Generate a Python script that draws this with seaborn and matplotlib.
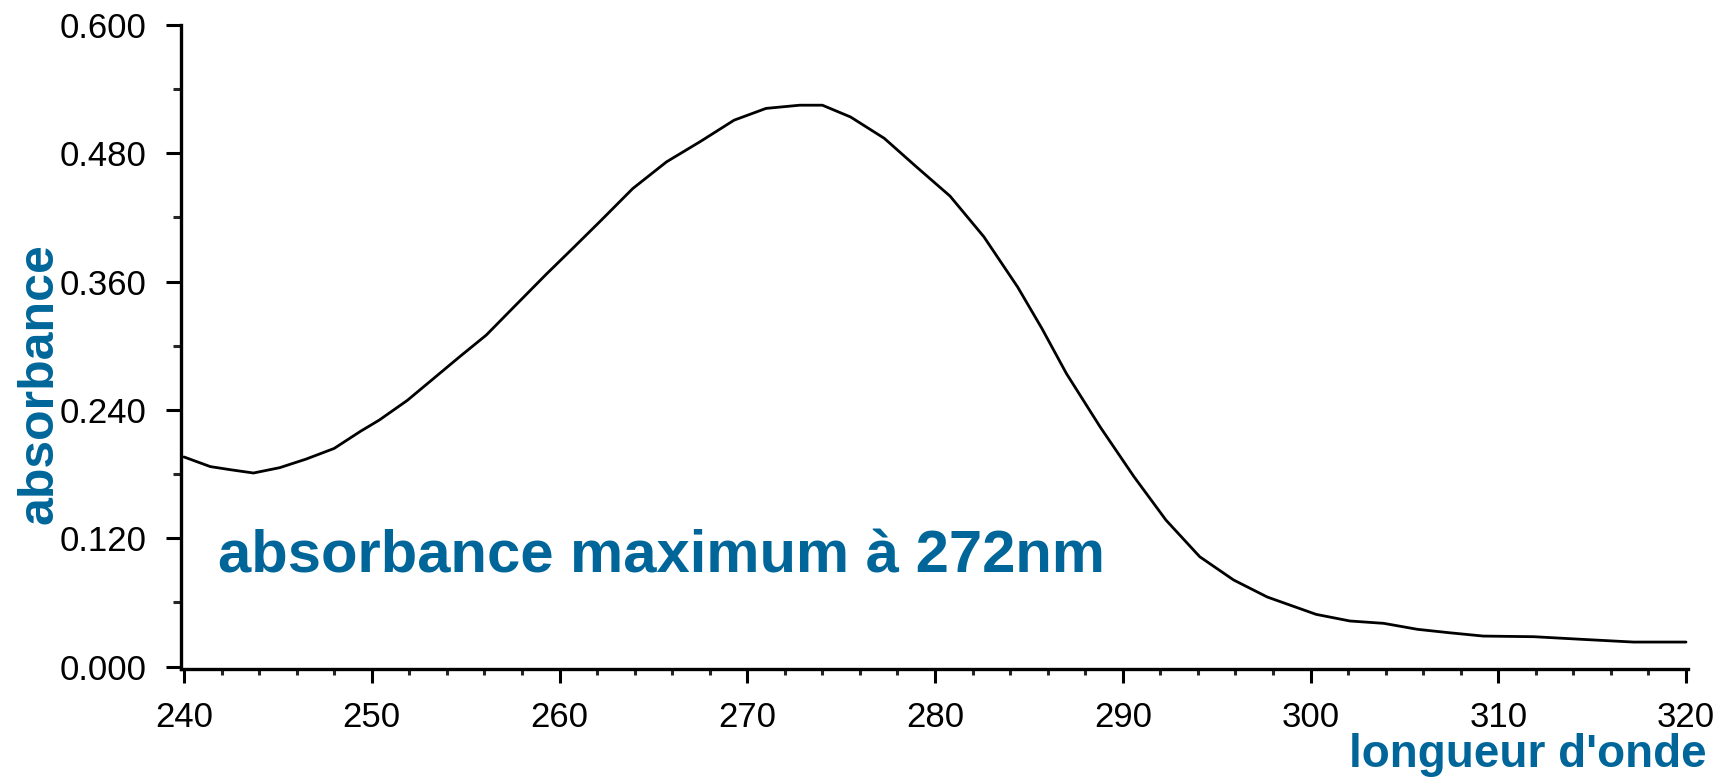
import matplotlib
matplotlib.use("Agg")
import matplotlib.pyplot as plt
from matplotlib.ticker import MultipleLocator, FormatStrFormatter
import seaborn as sns
import pandas as pd

# Data
wavelength = [240, 241.4, 242.5, 243.7, 245.1, 246.5, 248.0, 249.4, 250.4, 251.9,
              253.3, 254.7, 256.1, 257.5, 259.3, 260.7, 262.2, 263.9, 265.7, 267.5,
              269.3, 271.0, 272.8, 274.0, 275.5, 277.3, 279.0, 280.8, 282.6, 284.4,
              285.7, 287.0, 288.8, 290.6, 292.3, 294.1, 295.9, 297.7, 299.4, 300.3,
              302.1, 303.9, 305.7, 307.4, 309.2, 311.9, 314.5, 317.2, 320.0]
absorbance = [0.196, 0.187, 0.184, 0.181, 0.186, 0.194, 0.204, 0.220, 0.2305, 0.249,
              0.2695, 0.290, 0.310, 0.335, 0.367, 0.391, 0.417, 0.447, 0.472, 0.491,
              0.511, 0.522, 0.525, 0.525, 0.514, 0.494, 0.4675, 0.440, 0.402, 0.355,
              0.316, 0.274, 0.224, 0.1775, 0.137, 0.1027, 0.081, 0.065, 0.0544, 0.0488,
              0.0426, 0.0404, 0.0348, 0.0316, 0.0285, 0.0279, 0.0254, 0.0229, 0.0229]
y_ticks = [0.0, 0.12, 0.24, 0.36, 0.48, 0.60]
x_ticks = [240, 250, 260, 270, 280, 290, 300, 310, 320]

annotation = "absorbance maximum à 272nm"
x_label = "longueur d'onde"
y_label = "absorbance"

BLUE = "#006699"

sns.set_style("ticks")
plt.rcParams['font.family'] = ['Liberation Sans', 'DejaVu Sans']

W, H = 1719, 777
fig = plt.figure(figsize=(W / 100, H / 100), dpi=100)
ax = fig.add_axes([181 / W, 1 - 669 / H, (1688 - 181) / W, (669 - 25) / H])

df = pd.DataFrame({"wl": wavelength, "abs": absorbance})
sns.lineplot(data=df, x="wl", y="abs", ax=ax, color="black", linewidth=2.0)

ax.set_xlim(240 - 3 / 18.775, 320 + 2 / 18.775)
ax.set_ylim(-0.0023, 0.6)
ax.set_xticks(x_ticks)
ax.set_yticks(y_ticks)
ax.xaxis.set_minor_locator(MultipleLocator(2))
ax.yaxis.set_minor_locator(MultipleLocator(0.06))
ax.yaxis.set_major_formatter(FormatStrFormatter("%.3f"))

for s in ["top", "right"]:
    ax.spines[s].set_visible(False)
for s in ["left", "bottom"]:
    ax.spines[s].set_linewidth(2.4)
    ax.spines[s].set_color("black")

ax.tick_params(axis="y", which="major", length=11, width=2.2, pad=14, labelsize=25, colors="black")
ax.tick_params(axis="y", which="minor", length=6, width=2.2)
ax.tick_params(axis="x", which="major", length=10, width=2.2, pad=13, labelsize=25, colors="black")
ax.tick_params(axis="x", which="minor", length=4.5, width=2.2)
ax.set_xlabel("")
ax.set_ylabel("")
ax.grid(False)

# annotation inside plot (data coordinates)
ax.text(241.8, 0.0875, annotation, color=BLUE, fontsize=43, fontweight="bold",
        ha="left", va="baseline")

fig.text(1707 / W, 1 - 767 / H, x_label, color=BLUE, fontsize=33, fontweight="bold",
         ha="right", va="baseline")
fig.text(52 / W, 1 - 383.5 / H, y_label, color=BLUE, fontsize=36, fontweight="bold",
         rotation=90, rotation_mode="anchor", ha="center", va="baseline")

fig.savefig("out.png", dpi=100, facecolor="white")
